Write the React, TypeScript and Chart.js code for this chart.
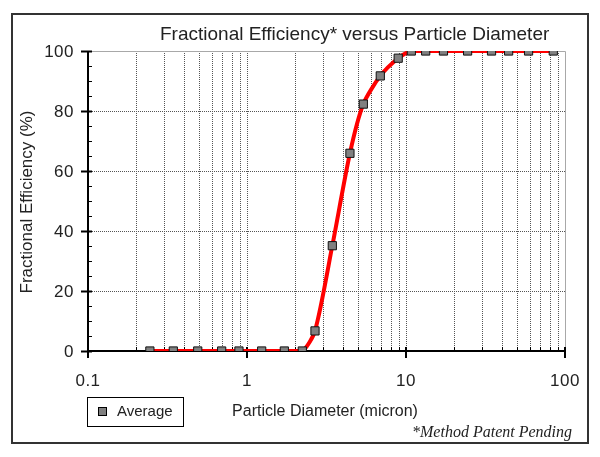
import React, { useEffect, useRef } from "react";
import { Chart, registerables } from "chart.js";

Chart.register(...registerables);

// ---- data ----
const diameters = [0.245, 0.344, 0.49, 0.693, 0.89, 1.237, 1.717, 2.228, 2.677, 3.44, 4.44, 5.39, 6.89, 8.93, 10.8, 13.3, 17.2, 24.4, 34.5, 44.2, 59.0, 84.4];
const efficiency = [0, 0, 0, 0, 0, 0, 0, 0, 6.7, 35.1, 65.9, 82.3, 91.7, 97.6, 100, 100, 100, 100, 100, 100, 100, 100];
const xTickValues = [0.1, 1, 10, 100];
const xTickLabels = ["0.1", "1", "10", "100"];
const yTickValues = [0, 20, 40, 60, 80, 100];
const yTickLabels = ["0", "20", "40", "60", "80", "100"];
const xMinorMultipliers = [2, 3, 4, 5, 6, 7, 8, 9];
const yMinorStep = 5;

const titleText = "Fractional Efficiency* versus Particle Diameter";
const yTitleText = "Fractional Efficiency (%)";
const xTitleText = "Particle Diameter (micron)";
const legendLabel = "Average";
const footnoteText = "*Method Patent Pending";

const SANS = '"Liberation Sans", Arial, sans-serif';
const SERIF = '"Liberation Serif", "DejaVu Serif", serif';

const decorPlugin = {
  id: "decor",
  beforeDraw(chart: any) {
    const ctx = chart.ctx;
    ctx.save();
    ctx.fillStyle = "#ffffff";
    ctx.fillRect(0, 0, chart.width, chart.height);
    ctx.restore();
  },
  beforeDatasetsDraw(chart: any) {
    const ctx = chart.ctx;
    const xs = chart.scales.x;
    const ys = chart.scales.y;
    const { left, right, top, bottom } = chart.chartArea;
    ctx.save();
    // dotted vertical grid
    ctx.strokeStyle = "#555555";
    ctx.lineWidth = 1;
    ctx.setLineDash([1, 1]);
    const decades = [0.1, 1, 10];
    const vgrid: number[] = [];
    decades.forEach((d) => {
      xMinorMultipliers.forEach((m) => vgrid.push(d * m));
      if (d > 0.1) vgrid.push(d);
    });
    vgrid.forEach((v) => {
      const px = Math.round(xs.getPixelForValue(v)) + 0.5;
      ctx.beginPath();
      ctx.moveTo(px, top);
      ctx.lineTo(px, bottom);
      ctx.stroke();
    });
    // dotted horizontal grid
    yTickValues.forEach((v) => {
      if (v === 0 || v === 100) return;
      const py = Math.round(ys.getPixelForValue(v)) + 0.5;
      ctx.beginPath();
      ctx.moveTo(left, py);
      ctx.lineTo(right, py);
      ctx.stroke();
    });
    ctx.setLineDash([]);
    // top and right frame (light gray)
    ctx.strokeStyle = "#a8a8a8";
    ctx.beginPath();
    ctx.moveTo(left, Math.round(top) + 0.5);
    ctx.lineTo(right + 0.5, Math.round(top) + 0.5);
    ctx.lineTo(right + 0.5, bottom);
    ctx.stroke();

    // axes
    ctx.strokeStyle = "#000000";
    ctx.lineWidth = 2;
    ctx.beginPath();
    ctx.moveTo(left, top);
    ctx.lineTo(left, bottom);
    ctx.lineTo(right, bottom);
    ctx.stroke();

    // y ticks
    for (let v = 0; v <= 100; v += yMinorStep) {
      const py = Math.round(ys.getPixelForValue(v)) + 0.5;
      const major = v % 20 === 0;
      ctx.lineWidth = major ? 2 : 1;
      ctx.beginPath();
      ctx.moveTo(major ? left - 7 : left, py);
      ctx.lineTo(left + 4, py);
      ctx.stroke();
    }
    // x ticks
    xTickValues.forEach((v) => {
      const px = Math.round(xs.getPixelForValue(v));
      ctx.lineWidth = 2;
      ctx.beginPath();
      ctx.moveTo(px, bottom - 4);
      ctx.lineTo(px, bottom + 7);
      ctx.stroke();
    });
    ctx.lineWidth = 1;
    decades.forEach((d) => {
      xMinorMultipliers.forEach((m) => {
        const px = Math.round(xs.getPixelForValue(d * m)) + 0.5;
        ctx.beginPath();
        ctx.moveTo(px, bottom - 4);
        ctx.lineTo(px, bottom);
        ctx.stroke();
      });
    });
    ctx.restore();
  },
  afterDraw(chart: any) {
    const ctx = chart.ctx;
    const xs = chart.scales.x;
    const ys = chart.scales.y;
    const { left, bottom } = chart.chartArea;
    ctx.save();
    ctx.fillStyle = "#222222";
    // tick labels
    ctx.font = `17px ${SANS}`;
    (ctx as any).letterSpacing = "0.5px";
    ctx.textBaseline = "middle";
    ctx.textAlign = "right";
    yTickValues.forEach((v, i) => {
      ctx.fillText(yTickLabels[i], left - 14, ys.getPixelForValue(v) + 1);
    });
    ctx.textAlign = "center";
    xTickValues.forEach((v, i) => {
      ctx.fillText(xTickLabels[i], xs.getPixelForValue(v), bottom + 30);
    });
    (ctx as any).letterSpacing = "0px";
    // title
    ctx.font = `19px ${SANS}`;
    ctx.textAlign = "left";
    ctx.fillText(titleText, 160, 35);
    // y title
    ctx.font = `17px ${SANS}`;
    ctx.save();
    ctx.translate(27, 202);
    ctx.rotate(-Math.PI / 2);
    ctx.textAlign = "center";
    ctx.fillText(yTitleText, 0, 0);
    ctx.restore();
    // x title
    ctx.font = `16px ${SANS}`;
    ctx.textAlign = "center";
    ctx.fillText(xTitleText, 325, 412);
    // legend
    ctx.strokeStyle = "#000000";
    ctx.lineWidth = 1;
    ctx.strokeRect(87.5, 397.5, 96, 29);
    ctx.fillStyle = "#808080";
    ctx.fillRect(98.5, 407.5, 8, 8);
    ctx.strokeRect(98.5, 407.5, 8, 8);
    ctx.fillStyle = "#222222";
    ctx.font = `15px ${SANS}`;
    ctx.textAlign = "left";
    ctx.fillText(legendLabel, 117, 412);
    // footnote
    ctx.font = `italic 16px ${SERIF}`;
    ctx.textAlign = "right";
    ctx.fillText(footnoteText, 572, 433);
    // outer border
    ctx.strokeStyle = "#333333";
    ctx.lineWidth = 2;
    ctx.strokeRect(12, 14, 576, 429);
    ctx.restore();
  },
};

export default function App() {
  const canvasRef = useRef<HTMLCanvasElement | null>(null);

  useEffect(() => {
    document.body.style.margin = "0";
    const canvas = canvasRef.current;
    if (!canvas) return;
    const points = diameters.map((d, i) => ({ x: d, y: efficiency[i] }));
    const chart = new Chart(canvas, {
      type: "line",
      data: {
        datasets: [
          {
            label: legendLabel,
            data: points,
            borderColor: "#ff0000",
            borderWidth: 4,
            tension: 0.25,
            borderJoinStyle: "round",
            pointStyle: "rect",
            pointRadius: 5.8,
            pointBackgroundColor: "#808080",
            pointBorderColor: "#111111",
            pointBorderWidth: 1,
            fill: false,
          },
        ],
      },
      options: {
        animation: false,
        responsive: false,
        devicePixelRatio: 1,
        layout: { padding: { left: 0, top: 51, right: 35, bottom: 0 } },
        plugins: {
          legend: { display: false },
          title: { display: false },
          tooltip: { enabled: false },
        },
        scales: {
          x: {
            type: "logarithmic",
            min: 0.1,
            max: 100,
            grid: { display: false },
            border: { display: false },
            ticks: { display: false },
            afterFit: (s: any) => {
              s.height = 106;
            },
          },
          y: {
            type: "linear",
            min: 0,
            max: 100,
            grid: { display: false },
            border: { display: false },
            ticks: { display: false },
            afterFit: (s: any) => {
              s.width = 88;
            },
          },
        },
      } as any,
      plugins: [decorPlugin],
    });
    return () => chart.destroy();
  }, []);

  return (
    <div style={{ position: "absolute", left: 0, top: 0, width: 600, height: 457 }}>
      <canvas ref={canvasRef} width={600} height={457} style={{ width: 600, height: 457, display: "block" }} />
    </div>
  );
}
